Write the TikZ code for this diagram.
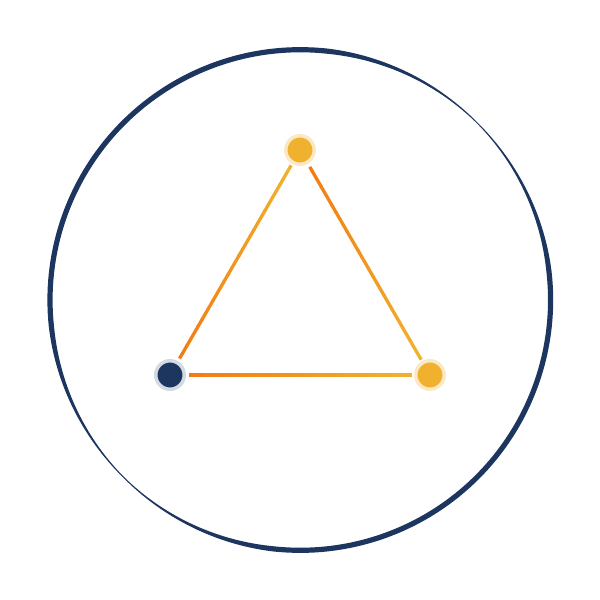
\documentclass[tikz,border=0pt]{standalone}
\usetikzlibrary{calc}
\definecolor{navy}{HTML}{1C365F}
\definecolor{orng}{HTML}{F27C12}
\definecolor{ylw}{HTML}{F0B22E}
\definecolor{cream}{HTML}{FBE9C6}
\definecolor{grayhalo}{HTML}{D3DAE4}
\tikzset{
  dotnode/.style={circle,inner sep=0pt,minimum size=28.5pt,line width=3.5pt},
  yellowdot/.style={dotnode,fill=ylw,draw=cream},
  navydot/.style={dotnode,fill=navy,draw=grayhalo},
}
\pgfmathdeclarefunction{ringt}{1}{%
  \pgfmathparse{1+4.2*(min(1,abs(sin(#1-45))*1.6))^1.3}%
}
\begin{document}
\begin{tikzpicture}[x=1pt,y=-1pt]
\useasboundingbox (0,0) rectangle (600,600);
% ring with varying thickness (thin at upper right and lower left)
\fill[navy,even odd rule]
  plot[domain=0:360,samples=241,smooth cycle]
    ({300.3+(250.3+0.5*ringt(\x))*cos(\x)},
     {300-(250.3+0.5*ringt(\x))*sin(\x)})
  plot[domain=0:360,samples=241,smooth cycle]
    ({300.3+(250.3-0.5*ringt(\x))*cos(\x)},
     {300-(250.3-0.5*ringt(\x))*sin(\x)});
% nodes
\node[yellowdot] (T) at (300,150) {};
\node[navydot] (L) at (170,375) {};
\node[yellowdot] (R) at (430,375) {};
% gradient edges
\foreach \a/\b/\s/\e in {L/T/0.073/0.93, T/R/0.075/0.93, L/R/0.073/0.93}{
  \foreach \i in {0,...,29}{
    \pgfmathsetmacro{\ta}{\s+(\e-\s)*\i/30}
    \pgfmathsetmacro{\tb}{\s+(\e-\s)*(\i+1)/30+0.002}
    \pgfmathsetmacro{\pc}{100-\i*100/29}
    \draw[line width=3.3pt,color=orng!\pc!ylw] ($(\a)!\ta!(\b)$) -- ($(\a)!\tb!(\b)$);
  }
}
\end{tikzpicture}
\end{document}
